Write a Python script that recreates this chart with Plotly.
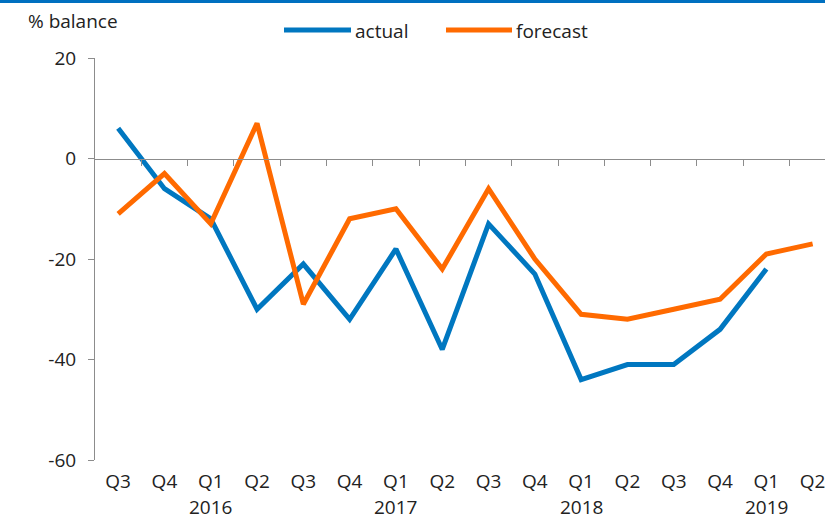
import plotly.graph_objects as go

# Quarterly survey balance, Q3 2015 .. Q2 2019
quarters = ["Q3", "Q4", "Q1", "Q2", "Q3", "Q4", "Q1", "Q2",
            "Q3", "Q4", "Q1", "Q2", "Q3", "Q4", "Q1", "Q2"]
year_labels = ["2016", "2017", "2018", "2019"]
year_positions = [2, 6, 10, 14]  # index of each year's Q1
actual = [6, -6, -12, -30, -21, -32, -18, -38, -13, -23, -44, -41, -41, -34, -22, None]
forecast = [-11, -3, -13, 7, -29, -12, -10, -22, -6, -20, -31, -32, -30, -28, -19, -17]
y_ticks = [-60, -40, -20, 0, 20]
y_ticktext = ["-60", "-40", "-20", "0", "20"]

BLUE = "#0077C0"
ORANGE = "#FF6A00"
GRAY = "#8C8C8C"
FONT = "Open Sans, Liberation Sans, sans-serif"
FS = 19

W, H = 825, 520
L, R, T, B = 95, 0, 58, 60
pw, ph = W - L - R, H - T - B


def px(x):
    return (x - L) / pw


def py(y):
    return (H - B - y) / ph


idx = list(range(len(quarters)))

fig = go.Figure()
fig.add_trace(go.Scatter(x=idx, y=actual, mode="lines", name="actual",
                         line=dict(color=BLUE, width=5), connectgaps=False))
fig.add_trace(go.Scatter(x=idx, y=forecast, mode="lines", name="forecast",
                         line=dict(color=ORANGE, width=5)))
# carrier trace for the zero-line category axis
fig.add_trace(go.Scatter(x=idx, y=[None] * len(idx), xaxis="x2", mode="lines",
                         showlegend=False, hoverinfo="skip"))

x_range = [-0.5, -0.5 + pw / 46.3]
zero_pos = (0 - (-60)) / (20 - (-60))

fig.update_layout(
    width=W, height=H,
    margin=dict(l=L, r=R, t=T, b=B),
    paper_bgcolor="white", plot_bgcolor="white",
    showlegend=False,
    font=dict(family=FONT, size=FS, color="#222222"),
    xaxis=dict(range=x_range, tickmode="array", tickvals=idx, ticktext=quarters,
               showline=False, showgrid=False, zeroline=False, ticks="",
               ticklabelstandoff=8, ticklabeloverflow="allow",
               tickfont=dict(size=FS)),
    xaxis2=dict(range=x_range, overlaying="x", anchor="free", position=zero_pos,
                side="bottom", showline=True, linecolor=GRAY, linewidth=1,
                tickmode="array", tickvals=[i + 0.5 for i in idx],
                ticks="outside", ticklen=6, tickcolor=GRAY, showticklabels=False,
                showgrid=False, zeroline=False),
    yaxis=dict(range=[-60, 20], tickmode="array", tickvals=y_ticks,
               ticktext=y_ticktext,
               showline=True, linecolor=GRAY, linewidth=1, ticks="outside",
               ticklen=6, tickcolor=GRAY, showgrid=False, zeroline=False,
               ticklabelstandoff=8, tickfont=dict(size=FS)),
)

# top rule
fig.add_shape(type="rect", xref="paper", yref="paper", x0=px(0), x1=px(W),
              y0=py(0), y1=py(3), fillcolor="#0070C0", line=dict(width=0))

# axis title
fig.add_annotation(text="% balance", xref="paper", yref="paper", x=px(26), y=py(21),
                   xanchor="left", yanchor="middle", showarrow=False,
                   font=dict(size=FS))

# legend
for name, color, x0, x1, tx in [("actual", BLUE, 284, 351, 353),
                                ("forecast", ORANGE, 446, 512, 514)]:
    fig.add_shape(type="line", xref="paper", yref="paper", x0=px(x0), x1=px(x1),
                  y0=py(30), y1=py(30), line=dict(color=color, width=5))
    fig.add_annotation(text=name, xref="paper", yref="paper", x=px(tx), y=py(31),
                       xanchor="left", yanchor="middle", showarrow=False,
                       font=dict(size=FS))

# year labels under each Q1
for yr, pos in zip(year_labels, year_positions):
    fig.add_annotation(text=yr, xref="x", yref="paper", x=pos, y=py(507),
                       xanchor="center", yanchor="middle", showarrow=False,
                       font=dict(size=FS))

fig.write_html("out.html")
